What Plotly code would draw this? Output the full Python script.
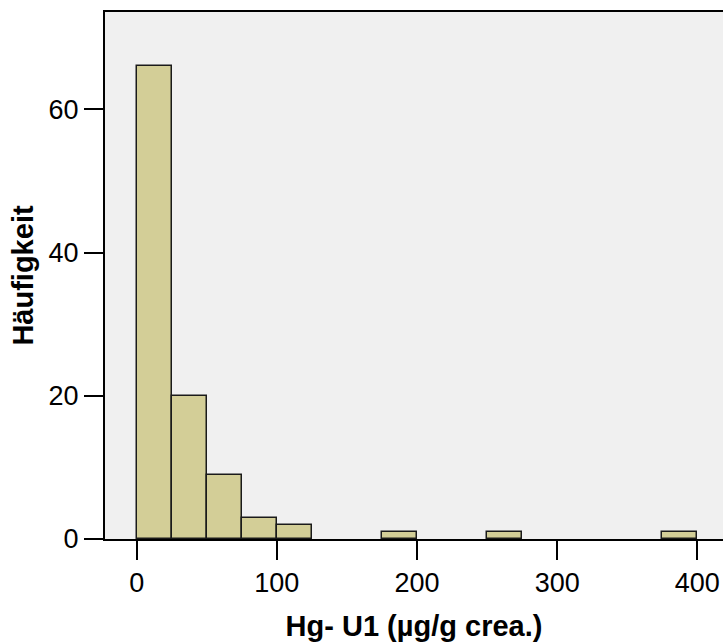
import plotly.graph_objects as go

# Histogram data: bin left edges (width 25) and counts
bin_left = [0, 25, 50, 75, 100, 125, 150, 175, 200, 225, 250, 275, 300, 325, 350, 375]
counts = [66, 20, 9, 3, 2, 0, 0, 1, 0, 0, 1, 0, 0, 0, 0, 1]
bin_width = 25
x_ticks = [0, 100, 200, 300, 400]
y_ticks = [0, 20, 40, 60]
x_title = "Hg- U1 (µg/g crea.)"
y_title = "Häufigkeit"

xs = [b + bin_width / 2 for b, c in zip(bin_left, counts) if c > 0]
ys = [c for c in counts if c > 0]

font_family = "Arial, Liberation Sans, sans-serif"

fig = go.Figure()
fig.add_trace(go.Bar(
    x=xs, y=ys, width=bin_width,
    marker=dict(color="#d3ce97", line=dict(color="#1a1a1a", width=1.5)),
))

fig.update_layout(
    width=723, height=644,
    margin=dict(l=105, r=0, t=12, b=105),
    paper_bgcolor="white",
    plot_bgcolor="#f0f0f0",
    showlegend=False,
    bargap=0,
    font=dict(family=font_family, color="black"),
)
fig.update_xaxes(
    range=[-22.6, 418.3],
    tickvals=x_ticks, ticktext=[str(v) for v in x_ticks],
    ticks="outside", ticklen=19, tickwidth=2, tickcolor="black",
    showline=True, linecolor="black", linewidth=2, mirror=True,
    showgrid=False, zeroline=False,
    tickfont=dict(size=27, family=font_family, color="black"),
    title=dict(text=x_title, font=dict(size=29, family=font_family, color="black", weight="bold"), standoff=18),
)
fig.update_yaxes(
    range=[0, 73.6],
    tickvals=y_ticks, ticktext=[str(v) for v in y_ticks],
    ticks="outside", ticklen=19, tickwidth=2, tickcolor="black",
    showline=True, linecolor="black", linewidth=2,
    showgrid=False, zeroline=False,
    tickfont=dict(size=27, family=font_family, color="black"),
    title=dict(text=y_title, font=dict(size=29, family=font_family, color="black", weight="bold"), standoff=6),
)

fig.write_html("out.html", config={"displayModeBar": False})

# remove default page margin so the figure sits at the window's top-left corner
with open("out.html", "r", encoding="utf-8") as f:
    html = f.read()
html = html.replace("<head>", "<head><style>html,body{margin:0;padding:0;overflow:hidden;}</style>", 1)
with open("out.html", "w", encoding="utf-8") as f:
    f.write(html)
